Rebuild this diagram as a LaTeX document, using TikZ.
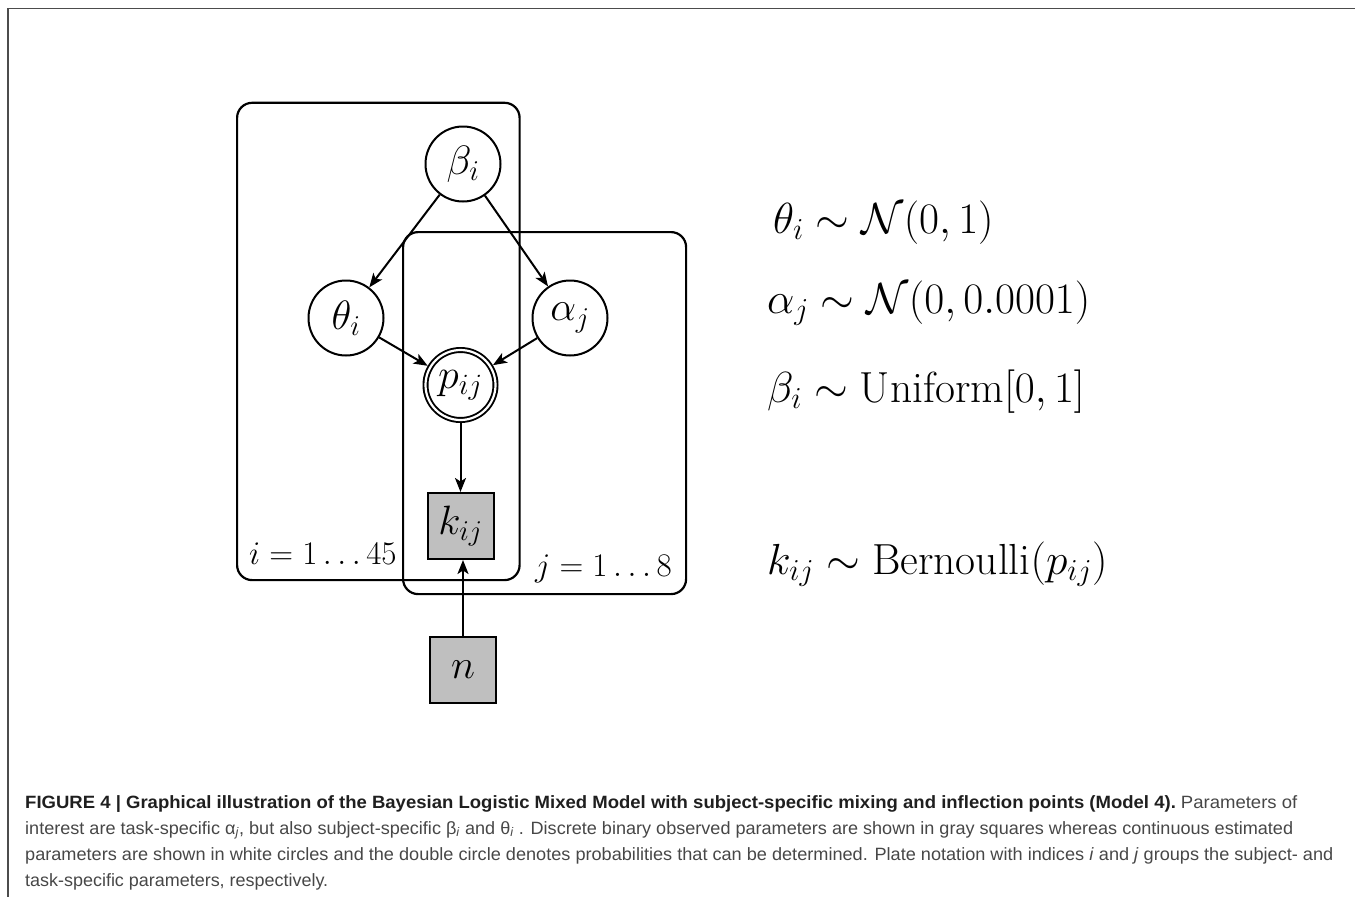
\RequirePackage{fix-cm}
\documentclass[tikz,border=0pt]{standalone}
\usepackage{fontspec}
\newfontfamily\capfont{Liberation Sans}
\usetikzlibrary{arrows.meta}
\begin{document}
\begin{tikzpicture}[x=1pt,y=-1pt,
  latent/.style={circle, draw, fill=white, line width=2pt, minimum size=75pt, inner sep=0pt, font=\fontsize{41}{48}\selectfont},
  detnode/.style={circle, draw, fill=white, double, double distance=2.2pt, line width=1.9pt, minimum size=70pt, inner sep=0pt, outer sep=3pt, font=\fontsize{42}{48}\selectfont},
  obs/.style={rectangle, draw, fill=gray!50, line width=2pt, minimum size=66pt, inner sep=0pt, font=\fontsize{41}{48}\selectfont},
  arr/.style={-{Stealth[length=14pt,width=11pt,inset=3.5pt]}, line width=2pt},
  plate/.style={draw, line width=2.2pt, rounded corners=15pt, inner sep=0pt, anchor=north west},
  platelab/.style={anchor=base west, inner sep=0pt, font=\fontsize{33}{40}\selectfont},
  eqn/.style={anchor=base west, inner sep=0pt, font=\fontsize{43.5}{50}\selectfont},
  capline/.style={anchor=base west, inner sep=0pt, font=\capfont\fontsize{17.8}{20}\selectfont}
]
\useasboundingbox (0,0) rectangle (1355,897);
% frame
\draw[line width=1.3pt, black!70] (1355,8.3) -- (8,8.3) -- (8,897);
% plates
\node[plate, minimum width=282.5pt, minimum height=477.3pt] (plateI) at (236,101.7) {};
\node[plate, minimum width=283pt, minimum height=362pt] (plateJ) at (402,231) {};
% nodes
\node[latent] (beta) at (463,164) {$\beta_i$};
\node[latent] (theta) at (346,318) {$\theta_i$};
\node[latent] (alpha) at (570,318) {$\alpha_j$};
\node[detnode] (p) at (460.5,385) {$p_{ij}$};
\node[obs] (k) at (460.5,526) {$k_{ij}$};
\node[obs] (n) at (463,669.5) {$n$};
% labels
\node[platelab] (labI) at (249,564) {$i=1\ldots45$};
\node[platelab] (labJ) at (535,576) {$j=1\ldots8$};
% edges
\draw[arr] (beta) -- (theta);
\draw[arr] (beta) -- (alpha);
\draw[arr] (theta) -- (p);
\draw[arr] (alpha) -- (p);
\draw[arr] (p) -- (p |- k.north);
\draw[arr] (n.north) -- (n.north |- k.south);
% equations
\node[eqn] (eq1) at (773,233) {$\theta_i \sim \mathcal{N}(0,1)$};
\node[eqn] (eq2) at (767,313) {$\alpha_j \sim \mathcal{N}(0,0.0001)$};
\node[eqn] (eq3) at (767,402) {$\beta_i \sim \mathrm{Uniform}[0,1]$};
\node[eqn] (eq4) at (767,574) {$k_{ij} \sim \mathrm{Bernoulli}(p_{ij})$};
% caption
\node[capline] (cap1) at (25,808) {\resizebox{1272pt}{\height}{{\color{black!88}\bfseries FIGURE 4 | Graphical illustration of the Bayesian Logistic Mixed Model with subject-specific mixing and inflection points (Model 4).}\ {\color{black!72}Parameters of}}};
\node[capline, text=black!72] (cap2) at (25,834) {\resizebox{1268pt}{\height}{interest are task-specific α\textsubscript{\textit{j}}, but also subject-specific β\textsubscript{\textit{i}} and θ\textsubscript{\textit{i}} . Discrete binary observed parameters are shown in gray squares whereas continuous estimated}};
\node[capline, text=black!72] (cap3) at (25,860) {\resizebox{1308pt}{\height}{parameters are shown in white circles and the double circle denotes probabilities that can be determined. Plate notation with indices \textit{i} and \textit{j} groups the subject- and}};
\node[capline, text=black!72] (cap4) at (25,886) {\resizebox{303pt}{\height}{task-specific parameters, respectively.}};
\end{tikzpicture}
\end{document}
